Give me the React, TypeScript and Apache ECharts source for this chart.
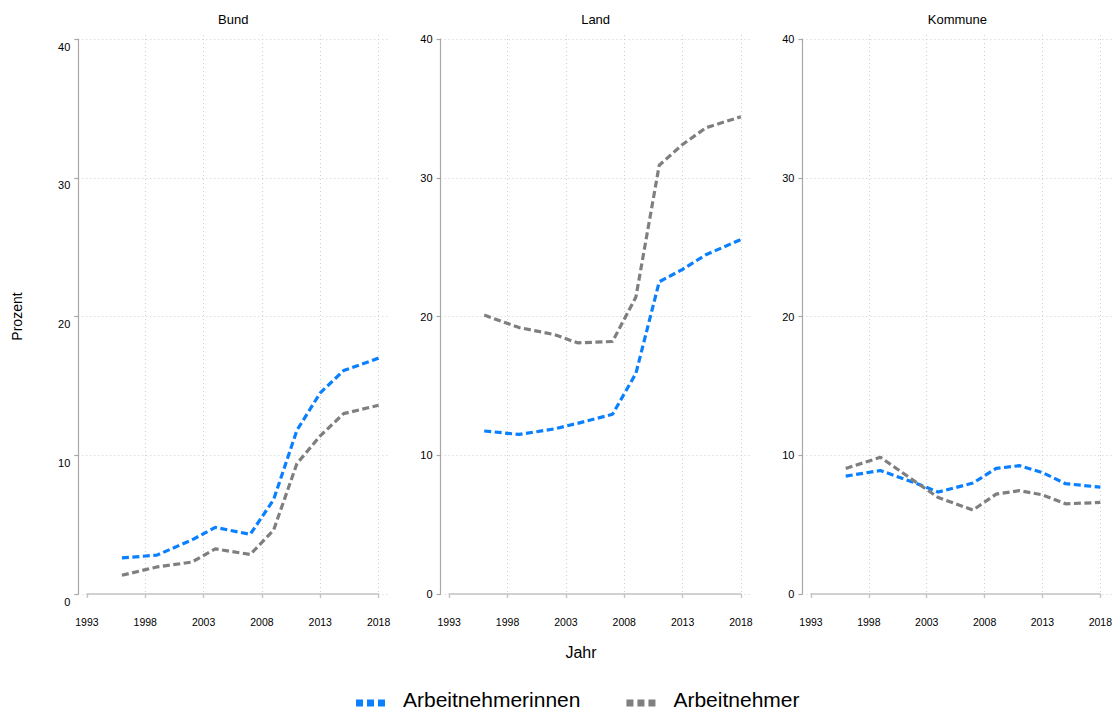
import React, { useEffect, useRef } from "react";
import * as echarts from "echarts";

const years = [1996, 1999, 2002, 2004, 2007, 2009, 2011, 2013, 2015, 2018];
const panelTitles = ["Bund", "Land", "Kommune"];
const seriesNames = ["Arbeitnehmerinnen", "Arbeitnehmer"];

const bundFrauen = [2.6, 2.8, 3.9, 4.8, 4.3, 6.8, 11.8, 14.5, 16.1, 17.0];
const bundMaenner = [1.35, 1.95, 2.3, 3.25, 2.85, 4.6, 9.4, 11.4, 13.0, 13.6];
const landFrauen = [11.75, 11.5, 11.9, 12.3, 12.95, 15.9, 22.5, 23.4, 24.45, 25.55];
const landMaenner = [20.1, 19.2, 18.7, 18.1, 18.2, 21.4, 30.9, 32.4, 33.6, 34.4];
const kommuneFrauen = [8.5, 8.9, 8.0, 7.35, 8.0, 9.05, 9.25, 8.75, 7.95, 7.7];
const kommuneMaenner = [9.05, 9.85, 8.1, 6.95, 6.05, 7.2, 7.45, 7.15, 6.5, 6.6];

const panelData = [
  [bundFrauen, bundMaenner],
  [landFrauen, landMaenner],
  [kommuneFrauen, kommuneMaenner],
];

const colors = ["#0a80ff", "#7f7f7f"];
const FONT = "'Liberation Sans', Arial, Helvetica, sans-serif";

export default function App() {
  const ref = useRef<HTMLDivElement>(null);
  useEffect(() => {
    document.body.style.margin = "0";
    if (!ref.current) return;
    const chart = echarts.init(ref.current, undefined, { renderer: "svg" });

    const axisXs = [78.3, 440.6, 802.4];
    const innerPad = 8.6;
    const innerW = 291.7;
    const outerW = innerPad + innerW + 9.7;
    const outerTop = 39;
    const outerH = 555;
    const innerTop = 35;
    const innerH = 559;
    const innerYMax = (40 * innerH) / outerH;

    const grids: any[] = [];
    const xAxes: any[] = [];
    const yAxes: any[] = [];
    const series: any[] = [];
    const graphics: any[] = [];

    const dotted = { show: true, lineStyle: { color: "#cfcfcf", width: 1, type: [1, 3] } };

    axisXs.forEach((ax, i) => {
      grids.push({ left: ax, top: outerTop, width: outerW, height: outerH });
      grids.push({ left: ax + innerPad, top: innerTop, width: innerW, height: innerH });

      xAxes.push({ gridIndex: 2 * i, type: "value", show: false, min: 0, max: 1 });
      yAxes.push({
        gridIndex: 2 * i,
        type: "value",
        min: 0,
        max: 40,
        interval: 10,
        name: i === 0 ? "Prozent" : "",
        nameLocation: "middle",
        nameGap: 54,
        nameTextStyle: { fontSize: 14, color: "#000", fontFamily: FONT },
        axisLine: { show: true, lineStyle: { color: "#a8a8a8", width: 1.2 } },
        axisTick: { show: true, length: 4, lineStyle: { color: "#a8a8a8", width: 1.2 } },
        axisLabel: {
          fontSize: 11,
          color: "#000",
          margin: 8,
          fontFamily: FONT,
          ...(i === 0 ? { verticalAlign: "top", lineHeight: 15 } : {}),
        },
        splitLine: dotted,
      });

      xAxes.push({
        gridIndex: 2 * i + 1,
        type: "value",
        min: 1993,
        max: 2018,
        interval: 5,
        offset: 9,
        axisLine: { show: true, lineStyle: { color: "#c4c4c4", width: 1.6 } },
        axisTick: { show: true, length: 4, lineStyle: { color: "#c4c4c4", width: 1.4 } },
        axisLabel: {
          fontSize: 10.5,
          color: "#000",
          margin: 13,
          fontFamily: FONT,
          formatter: (v: number) => String(v),
        },
        splitLine: { ...dotted, showMinLine: false },
      });
      yAxes.push({ gridIndex: 2 * i + 1, type: "value", show: false, min: 0, max: innerYMax });

      panelData[i].forEach((vals, s) => {
        series.push({
          type: "line",
          name: seriesNames[s],
          xAxisIndex: 2 * i + 1,
          yAxisIndex: 2 * i + 1,
          data: years.map((y, k) => [y, vals[k]]),
          symbol: "none",
          showSymbol: false,
          color: colors[s],
          itemStyle: { color: colors[s] },
          lineStyle: { color: colors[s], width: 3.2, type: [7, 3.5] },
        });
      });

      graphics.push({
        type: "text",
        x: ax + outerW / 2,
        y: 19.5,
        style: {
          text: panelTitles[i],
          fontSize: 13,
          fontFamily: FONT,
          fill: "#000",
          align: "center",
          verticalAlign: "middle",
          textAlign: "center",
          textVerticalAlign: "middle",
        },
      });
    });

    graphics.push({
      type: "text",
      x: 581,
      y: 652.5,
      style: {
        text: "Jahr",
        fontSize: 16,
        fontFamily: FONT,
        fill: "#000",
        align: "center",
        verticalAlign: "middle",
        textAlign: "center",
        textVerticalAlign: "middle",
      },
    });

    chart.setOption({
      animation: false,
      textStyle: { fontFamily: FONT },
      grid: grids,
      xAxis: xAxes,
      yAxis: yAxes,
      series,
      graphic: graphics,
      legend: {
        data: seriesNames,
        left: 356,
        top: 688.5,
        padding: 0,
        itemGap: 46,
        itemWidth: 29,
        itemHeight: 15,
        icon: "path://M0,0h0.01v0.01h-0.01zM0,8h7v7h-7zM11,8h7v7h-7zM22,8h7v7h-7z",
        itemStyle: { borderWidth: 0 },
        textStyle: { fontSize: 21, lineHeight: 21, color: "#000", fontFamily: FONT, padding: [0, 0, 0, 13] },
        selectedMode: false,
      },
    });
    return () => chart.dispose();
  }, []);
  return <div ref={ref} style={{ width: 1115, height: 711 }} />;
}
